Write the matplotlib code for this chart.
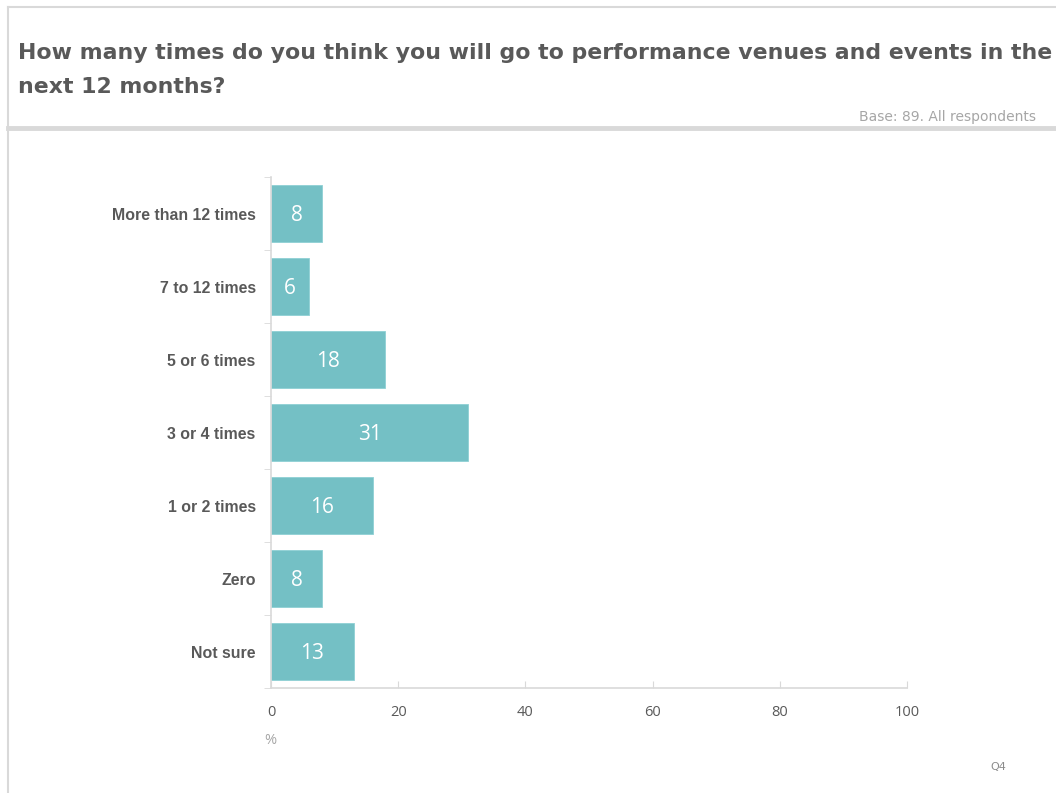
import matplotlib
matplotlib.use("Agg")
from matplotlib import pyplot as plt
from matplotlib.lines import Line2D

categories = ["More than 12 times", "7 to 12 times", "5 or 6 times", "3 or 4 times",
              "1 or 2 times", "Zero", "Not sure"]
percent = [8, 6, 18, 31, 16, 8, 13]
x_ticks = [0, 20, 40, 60, 80, 100]

title_lines = ["How many times do you think you will go to performance venues and events in the",
               "next 12 months?"]
base_note = "Base: 89. All respondents"

bar_color = "#74c0c5"
axis_grey = "#d9d9d9"
text_grey = "#595959"

fig = plt.figure(figsize=(10.56, 7.93), dpi=100)

# page frame: top border, left border and the band under the title
fig.add_artist(Line2D([8 / 1056, 1], [1 - 7 / 793] * 2, color=axis_grey, lw=1.5))
fig.add_artist(Line2D([8 / 1056] * 2, [0, 1 - 7 / 793], color=axis_grey, lw=1.5))
fig.add_artist(Line2D([8 / 1056, 1], [1 - 128 / 793] * 2, color=axis_grey, lw=3.5))

for line, y in zip(title_lines, [53, 87]):
    fig.text(18 / 1056, 1 - y / 793, line, ha="left", va="center", fontsize=15.8,
             fontweight="bold", color=text_grey, family="DejaVu Sans")
fig.text(1036 / 1056, 1 - 117 / 793, base_note, ha="right", va="center",
         fontsize=10, color="#a6a6a6", family="Liberation Sans Narrow")
fig.text(998 / 1056, 1 - 767 / 793, "Q4", ha="center", va="center",
         fontsize=8, color="#8c8c8c", family="Liberation Sans Narrow")

ax = fig.add_axes([271 / 1056, 1 - 688 / 793, 636 / 1056, 511 / 793])
pos = list(range(len(categories)))
ax.barh(pos, percent, height=0.77, color=bar_color, edgecolor="#8fd0d4", linewidth=0.6)
for p, v in zip(pos, percent):
    ax.text(v / 2, p + 0.03, str(v), ha="center", va="center", color="white",
            fontsize=15, family="Open Sans")

ax.set_ylim(len(categories) - 0.5, -0.5)
ax.set_xlim(0, 100)
ax.set_yticks(pos)
ax.set_yticklabels(categories, fontsize=11.4, fontweight="bold", fontstretch="normal",
                   color=text_grey, family="Liberation Sans")
ax.set_yticks([p + 0.5 for p in [-1] + pos], minor=True)
ax.tick_params(axis="y", which="major", length=0, pad=11)
ax.tick_params(axis="y", which="minor", length=5, color=axis_grey, direction="out")
ax.set_xticks(x_ticks)
ax.set_xticklabels([str(t) for t in x_ticks], fontsize=10.5, color=text_grey,
                   family="Open Sans")
ax.tick_params(axis="x", length=5, color=axis_grey, direction="in", pad=12)
for side in ["top", "right"]:
    ax.spines[side].set_visible(False)
for side in ["left", "bottom"]:
    ax.spines[side].set_color(axis_grey)
    ax.spines[side].set_linewidth(1.2)

fig.text(270 / 1056, 1 - 740 / 793, "%", ha="center", va="center",
         fontsize=10.5, color="#a6a6a6", family="Open Sans")

fig.savefig("out.png", dpi=100)
